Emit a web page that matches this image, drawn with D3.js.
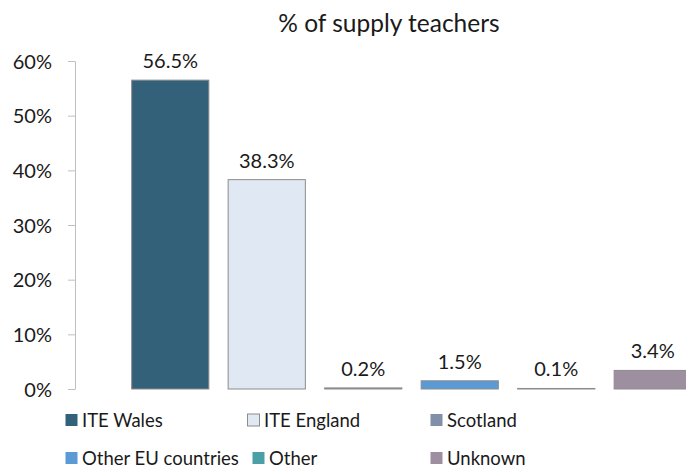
<!DOCTYPE html>
<html>
<head>
<meta charset="utf-8">
<script src="https://cdn.jsdelivr.net/npm/d3@7"></script>
<style>
body { margin: 0; background: #fff; }
text { font-family: Lato, "Open Sans", sans-serif; fill: #1a1a1a; }
</style>
</head>
<body>
<svg id="chart"></svg>
<script>
const svgWidth = 686;
const svgHeight = 470;

// data
const categories = ["ITE Wales", "ITE England", "Scotland", "Other EU countries", "Other", "Unknown"];
const values = [56.5, 38.3, 0.2, 1.5, 0.1, 3.4];
const colors = ["#336179", "#dfe8f3", "#8190a8", "#5b9bd5", "#4ba0a8", "#9e8fa0"];
const yTicks = [0, 10, 20, 30, 40, 50, 60];
const chartTitle = "% of supply teachers";

const svg = d3.select("#chart")
	.attr("width", svgWidth)
	.attr("height", svgHeight);

const xScale = d3.scaleBand()
	.domain(categories)
	.range([122, 701])
	.paddingInner(0.2)
	.paddingOuter(0.1);

const yScale = d3.scaleLinear()
	.domain([0, 60])
	.range([389, 61]);

// title
svg.append("text")
	.text(chartTitle)
	.attr("x", 389)
	.attr("y", 32)
	.attr("font-size", "24.5px")
	.attr("text-anchor", "middle");

// y axis
const yAxis = d3.axisLeft(yScale)
	.tickValues(yTicks)
	.tickSize(7)
	.tickSizeOuter(0)
	.tickPadding(16)
	.tickFormat(d => d + "%");

const axisG = svg.append("g")
	.attr("transform", "translate(75, 0)")
	.call(yAxis);
axisG.selectAll("line, path").attr("stroke", "#bfbfbf");
axisG.selectAll("text")
	.attr("font-size", "20px")
	.attr("dy", "0.35em")
	.style("font-family", "Lato, sans-serif")
	.attr("fill", "#1a1a1a");

// bars
svg.selectAll("rect.bar")
	.data(values)
	.enter()
	.append("rect")
	.classed("bar", true)
	.attr("x", (d, i) => xScale(categories[i]))
	.attr("width", xScale.bandwidth())
	.attr("y", d => yScale(d))
	.attr("height", d => yScale(0) - yScale(d))
	.attr("fill", (d, i) => colors[i])
	.attr("stroke", "#8c8c8c")
	.attr("stroke-width", 1);

// value labels
svg.selectAll("text.val")
	.data(values)
	.enter()
	.append("text")
	.classed("val", true)
	.text(d => d.toFixed(1) + "%")
	.attr("x", (d, i) => xScale(categories[i]) + xScale.bandwidth() / 2)
	.attr("y", d => yScale(d) - 12)
	.attr("font-size", "20px")
	.attr("text-anchor", "middle");

// legend
const legendRows = [420, 458];
const legendX = [65, 247, 430, 65, 252, 430];
const legend = svg.selectAll("g.legend")
	.data(categories)
	.enter()
	.append("g")
	.classed("legend", true)
	.attr("transform", (d, i) => `translate(${legendX[i]}, ${legendRows[Math.floor(i / 3)]})`);

legend.append("rect")
	.attr("x", 0.5)
	.attr("y", -6)
	.attr("width", 12)
	.attr("height", 12)
	.attr("fill", (d, i) => colors[i])
	.attr("stroke", (d, i) => i === 1 ? "#8c8c8c" : "none");

legend.append("text")
	.text(d => d)
	.attr("x", 17)
	.attr("y", 7)
	.attr("font-size", "18.5px");
</script>
</body>
</html>
